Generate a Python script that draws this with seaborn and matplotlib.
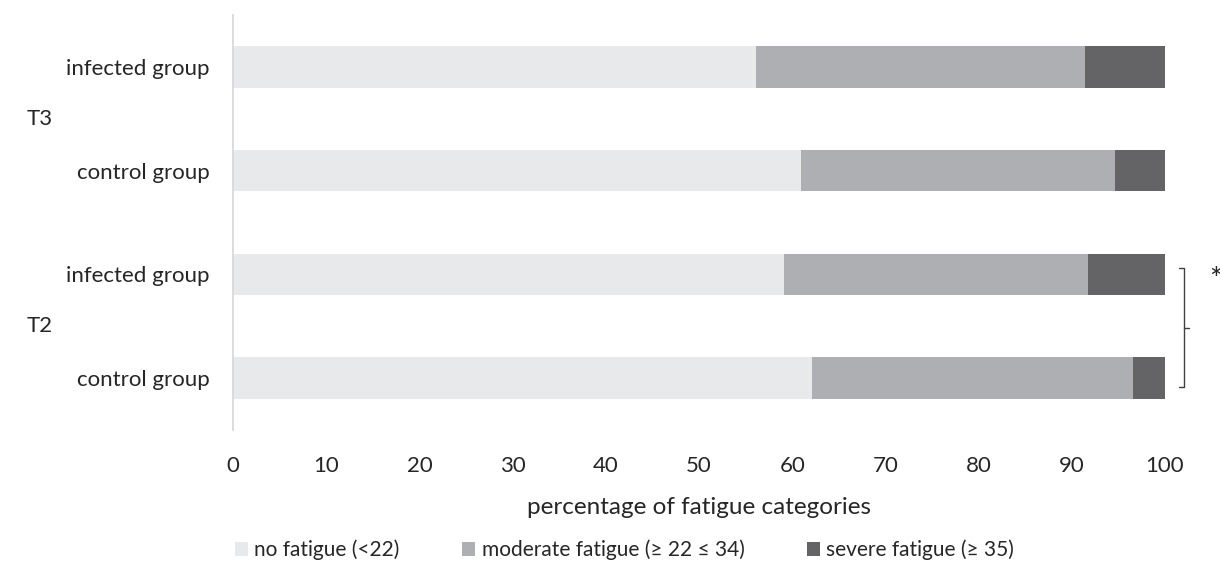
import matplotlib
matplotlib.use("Agg")
import matplotlib.pyplot as plt
import matplotlib.transforms as mtrans
from matplotlib.patches import Patch
import seaborn as sns
import pandas as pd

# Rows from top to bottom
timepoints = ["T3", "T3", "T2", "T2"]
groups = ["infected group", "control group", "infected group", "control group"]

# Percentage of participants per fatigue category
no_fatigue = [56.1, 60.9, 59.1, 62.1]
moderate_fatigue = [35.3, 33.7, 32.6, 34.5]
severe_fatigue = [8.6, 5.4, 8.3, 3.4]

categories = ["no fatigue (<22)", "moderate fatigue (\u2265 22 \u2264 34)", "severe fatigue (\u2265 35)"]
colors = ["#E8E9EB", "#AEAFB2", "#646466"]
x_ticks = [0, 10, 20, 30, 40, 50, 60, 70, 80, 90, 100]

sns.set_theme(style="white")
plt.rcParams["font.family"] = ["Lato", "DejaVu Sans"]
text_color = "#262626"

rows = [f"{t} {g}" for t, g in zip(timepoints, groups)]
series = [no_fatigue, moderate_fatigue, severe_fatigue]

# Cumulative sums for stacking
records = []
for i, row in enumerate(rows):
    cum = 0.0
    for cat, vals in zip(categories, series):
        cum += vals[i]
        records.append({"row": row, "category": cat, "cum": cum})
df = pd.DataFrame(records)

fig = plt.figure(figsize=(12.2, 5.83), dpi=100)
ax = fig.add_axes([233 / 1220, 1 - 429.8 / 583, (1165 - 233) / 1220, (429.8 - 15.2) / 583])

# Draw from the outermost segment inwards so each layer covers the previous one
for cat, col in reversed(list(zip(categories, colors))):
    sub = df[df["category"] == cat]
    sns.barplot(data=sub, x="cum", y="row", order=rows, color=col, width=0.4,
                orient="h", errorbar=None, saturation=1, linewidth=0, ax=ax)

ax.set_xlim(0, 100)
ax.set_ylim(3.5, -0.5)
ax.set_xticks(x_ticks)
ax.set_xticklabels([str(t) for t in x_ticks], fontsize=16, color=text_color)
ax.set_yticks(range(len(rows)))
ax.set_yticklabels(groups, fontsize=16, color=text_color)
ax.tick_params(axis="y", length=0, pad=17)
ax.tick_params(axis="x", length=0, pad=19)
ax.set_ylabel("")
ax.set_xlabel("percentage of fatigue categories", fontsize=17.5, color=text_color, labelpad=15)

for side in ["top", "right", "bottom"]:
    ax.spines[side].set_visible(False)
ax.spines["left"].set_color("#D9D9D9")
ax.spines["left"].set_linewidth(1.3)

# Time point labels between their two rows
trans = mtrans.blended_transform_factory(fig.transFigure, ax.transData)
for t in dict.fromkeys(timepoints):
    idx = [i for i, tp in enumerate(timepoints) if tp == t]
    ax.text(27 / 1220, sum(idx) / len(idx), t, transform=trans, ha="left", va="center",
            fontsize=16, color=text_color)

# Significance bracket between the T2 rows
y0, y1 = 2 - 0.06, 3 + 0.09
ym = (y0 + y1) / 2
bx = 102.0
ax.plot([bx - 0.45, bx, bx, bx - 0.45], [y0, y0, y1, y1], color="#404040", lw=1.0, clip_on=False)
ax.plot([bx, bx + 0.6], [ym, ym], color="#404040", lw=1.0, clip_on=False)
ax.text(105.4, 2.05, "*", ha="center", va="center", fontsize=22, color=text_color, clip_on=False)

handles = [Patch(facecolor=c, edgecolor="none", label=l) for c, l in zip(colors, categories)]
fig.legend(handles=handles, loc="center", bbox_to_anchor=(0.512, 1 - 550 / 583), ncol=3,
           frameon=False, fontsize=15, handlelength=0.62, handleheight=0.62,
           handletextpad=0.3, columnspacing=3.0, labelcolor=text_color)

fig.savefig("out.png", dpi=100)
